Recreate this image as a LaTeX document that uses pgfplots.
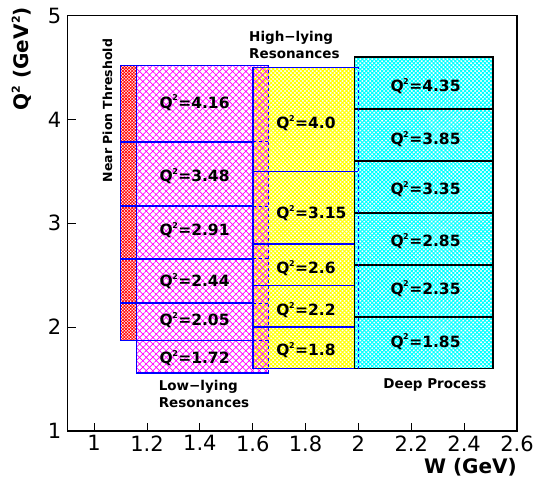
\documentclass[border=0pt]{standalone}
\usepackage{fontspec}
\setmainfont{DejaVu Sans}
\usepackage{pgfplots}
\pgfplotsset{compat=1.18}
\usetikzlibrary{patterns.meta}
\tikzset{
  magpat/.style={pattern={Hatch[angle=45,distance=4.7pt,line width=0.7pt]}, pattern color=magenta},
  redpat/.style={pattern={Hatch[angle=45,distance=2.2pt,line width=0.7pt]}, pattern color=red},
  yelpat/.style={pattern={Hatch[angle=45,distance=2.8pt,line width=1.0pt]}, pattern color=yellow},
  cyapat/.style={pattern={Hatch[angle=45,distance=2.8pt,line width=1.0pt]}, pattern color=cyan},
  lab/.style={font=\bfseries\fontsize{15.5}{15.5}\selectfont, inner sep=0pt},
  blab/.style={font=\bfseries\fontsize{13.5}{16.6}\selectfont, inner sep=0pt, align=left, anchor=west},
}
\newcommand{\sq}{\kern-0.5pt\raisebox{0.85ex}{\fontsize{8}{8}\selectfont 2}\kern0.5pt}
\newcommand{\ql}[1]{Q\sq=#1}
\begin{document}
\begin{tikzpicture}
\begin{axis}[
  name=ax,
  scale only axis, width=449.3pt, height=415.5pt,
  xmin=0.9, xmax=2.6, ymin=1, ymax=5,
  xtick={1,1.2,1.4,1.6,1.8,2,2.2,2.4,2.6},
  ytick={1,2,3,4,5},
  tick pos=left, tick align=inside, major tick length=8pt,
  minor tick num=0,
  axis line style={line width=1.4pt},
  every tick/.style={line width=0.8pt, black},
  ticklabel style={font=\fontsize{21}{21}\selectfont},
  /pgf/number format/assume math mode=true,
  xticklabel style={/pgf/number format/fixed, /pgf/number format/precision=1, yshift=-1pt},
  yticklabel style={xshift=-3pt},
  clip=false,
]
% yellow region (high-lying resonances)
\addplot[draw=none, yelpat] coordinates {(1.60,1.60) (2.00,1.60) (2.00,4.50) (1.60,4.50) (1.60,1.60)};
% red strip (near pion threshold)
\addplot[draw=none, redpat] coordinates {(1.10,1.87) (1.16,1.87) (1.16,4.52) (1.10,4.52) (1.10,1.87)};
% magenta region (low-lying resonances)
\addplot[draw=none, magpat] coordinates {(1.16,1.56) (1.66,1.56) (1.66,4.52) (1.16,4.52) (1.16,1.56)};
% cyan region (deep process)
\addplot[draw=black, line width=1.6pt, preaction={fill=white}, cyapat] coordinates {(1.985,1.60) (2.51,1.60) (2.51,4.60) (1.985,4.60) (1.985,1.60)};
\addplot[black, line width=1.6pt, unbounded coords=jump] coordinates {
 (1.985,2.10) (2.51,2.10) (2.0,nan)
 (1.985,2.60) (2.51,2.60) (2.0,nan)
 (1.985,3.10) (2.51,3.10) (2.0,nan)
 (1.985,3.60) (2.51,3.60) (2.0,nan)
 (1.985,4.10) (2.51,4.10)};
% magenta / red outlines
\addplot[blue, line width=1.6pt] coordinates {(1.10,1.87) (1.10,4.52) (1.66,4.52)};
\addplot[blue, line width=1.6pt] coordinates {(1.16,4.52) (1.16,1.56) (1.66,1.56)};
\addplot[blue, line width=1.6pt, unbounded coords=jump] coordinates {
 (1.10,1.87) (1.60,1.87) (1.6,nan)
 (1.10,2.23) (1.60,2.23) (1.6,nan)
 (1.10,2.656) (1.60,2.656) (1.6,nan)
 (1.10,3.166) (1.60,3.166) (1.6,nan)
 (1.10,3.785) (1.60,3.785)};
\addplot[blue, line width=1.0pt, dashed, unbounded coords=jump] coordinates {
 (1.60,1.87) (1.66,1.87) (1.6,nan)
 (1.60,2.23) (1.66,2.23) (1.6,nan)
 (1.60,2.656) (1.66,2.656) (1.6,nan)
 (1.60,3.166) (1.66,3.166) (1.6,nan)
 (1.60,3.785) (1.66,3.785) (1.6,nan)
 (1.66,1.56) (1.66,4.52)};
% yellow outlines
\addplot[blue, line width=1.6pt] coordinates {(2.00,4.50) (1.60,4.50) (1.60,1.60) (1.985,1.60)};
\addplot[blue, line width=1.6pt, unbounded coords=jump] coordinates {
 (1.60,2.00) (1.985,2.00) (1.6,nan)
 (1.60,2.40) (1.985,2.40) (1.6,nan)
 (1.60,2.80) (1.985,2.80) (1.6,nan)
 (1.60,3.50) (2.00,3.50)};
\addplot[blue, line width=1.0pt, dashed] coordinates {(2.00,1.60) (2.00,4.50)};
% bin labels
\node[lab] at (axis cs:1.38,4.16) {\ql{4.16}};
\node[lab] at (axis cs:1.38,3.45) {\ql{3.48}};
\node[lab] at (axis cs:1.38,2.935) {\ql{2.91}};
\node[lab] at (axis cs:1.38,2.44) {\ql{2.44}};
\node[lab] at (axis cs:1.38,2.07) {\ql{2.05}};
\node[lab] at (axis cs:1.38,1.70) {\ql{1.72}};
\node[lab, anchor=west] at (axis cs:1.689,3.96) {\ql{4.0}};
\node[lab, anchor=west] at (axis cs:1.689,3.10) {\ql{3.15}};
\node[lab, anchor=west] at (axis cs:1.689,2.567) {\ql{2.6}};
\node[lab, anchor=west] at (axis cs:1.689,2.166) {\ql{2.2}};
\node[lab, anchor=west] at (axis cs:1.689,1.78) {\ql{1.8}};
\node[lab] at (axis cs:2.254,4.32) {\ql{4.35}};
\node[lab] at (axis cs:2.254,3.81) {\ql{3.85}};
\node[lab] at (axis cs:2.254,3.33) {\ql{3.35}};
\node[lab] at (axis cs:2.254,2.83) {\ql{2.85}};
\node[lab] at (axis cs:2.254,2.37) {\ql{2.35}};
\node[lab] at (axis cs:2.254,1.86) {\ql{1.85}};
% region labels
\node[font=\bfseries\fontsize{12.5}{12.5}\selectfont, rotate=90, inner sep=0pt] at (axis cs:1.05,4.085) {Near Pion Threshold};
\node[blab] at (axis cs:1.586,4.716) {High−lying\\Resonances};
\node[blab] at (axis cs:1.244,1.356) {Low−lying\\Resonances};
\node[blab] at (axis cs:2.094,1.443) {Deep Process};
% axis titles
\node[font=\bfseries\fontsize{20}{20}\selectfont, anchor=east, inner sep=0pt] at ([yshift=-36pt]rel axis cs:1,0) {W (GeV)};
\node[font=\bfseries\fontsize{20}{20}\selectfont, anchor=east, rotate=90, inner sep=0pt] at ([xshift=-46pt,yshift=8.5pt]rel axis cs:0,1) {Q\raisebox{0.8ex}{\fontsize{11}{11}\selectfont 2} (GeV\raisebox{0.8ex}{\fontsize{11}{11}\selectfont 2})};
\end{axis}
\pgfresetboundingbox
\path[use as bounding box] (ax.south west) ++(-67.7pt,-46pt) rectangle ++(537pt,477pt);
\end{tikzpicture}
\end{document}
